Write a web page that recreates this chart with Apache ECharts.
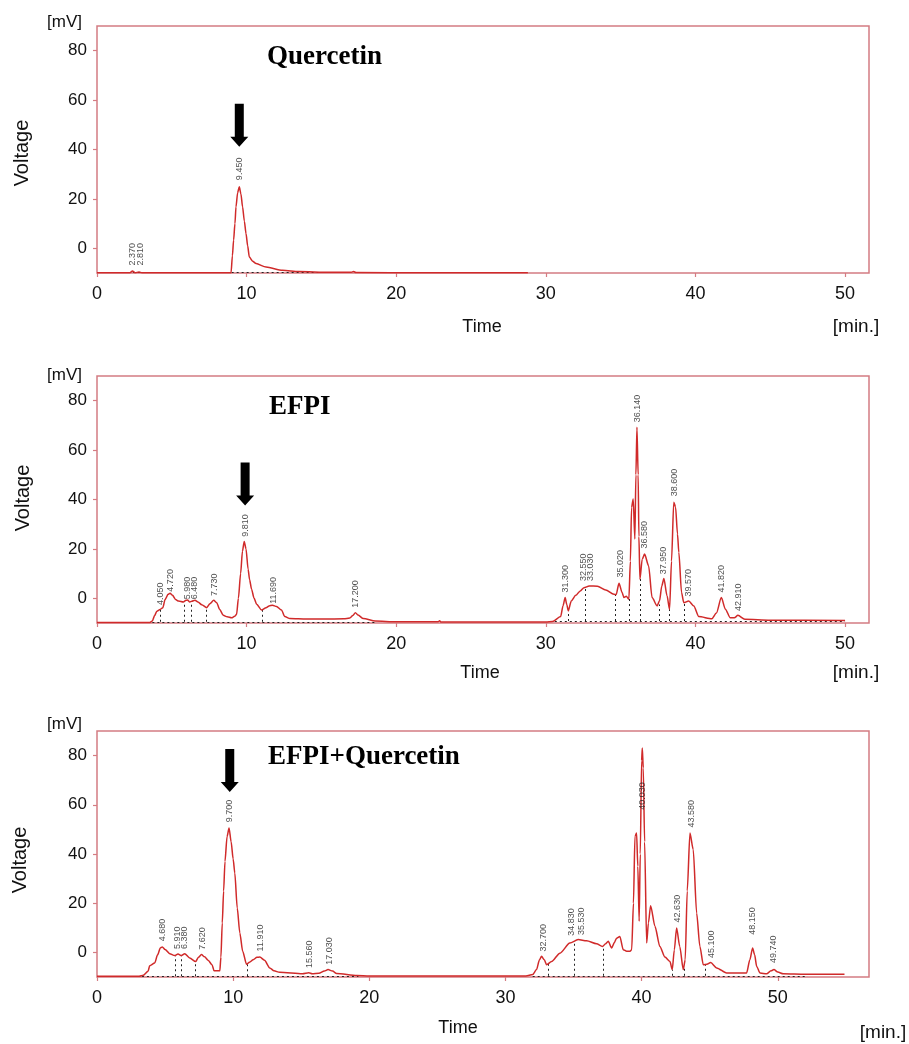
<!DOCTYPE html>
<html><head><meta charset="utf-8">
<script src="https://cdn.jsdelivr.net/npm/echarts@6/dist/echarts.min.js"></script>
<style>html,body{margin:0;padding:0;background:#fff}#c{width:909px;height:1044px}</style>
</head><body><div id="c"></div>
<script>
// ---------- DATA ----------
const panelTitles = ['Quercetin', 'EFPI', 'EFPI+Quercetin'];
const xMax = [51.6, 51.6, 56.7];
const xTickValues = [0, 10, 20, 30, 40, 50];
const yTickValues = [0, 20, 40, 60, 80];

// chromatogram traces [time (min), voltage (mV)]
const quercetinTrace = [[0,-9.9],[2.2,-9.9],[2.37,-9.2],[2.55,-9.9],[2.81,-9.6],[3.0,-9.9],[8.96,-9.9],[9.05,-3],[9.13,3.3],[9.22,10],[9.29,16.8],[9.4,22.5],[9.51,24.9],[9.62,22],[9.73,16.8],[9.85,11],[9.96,6],[10.07,1],[10.18,-3.5],[10.4,-5.2],[10.63,-6.2],[11.3,-7.6],[12.4,-8.9],[13.5,-9.4],[15.5,-9.7],[17.0,-9.7],[17.15,-9.4],[17.3,-9.8],[22,-9.9],[28.8,-9.9]];

const efpiTrace = [[0,-9.8],[3.5,-9.8],[3.7,-9.2],[3.85,-7],[4.0,-5.2],[4.22,-4.5],[4.4,-3.8],[4.55,-0.5],[4.75,1.6],[4.88,2.0],[5.05,1.2],[5.25,-0.5],[5.45,-1.1],[5.77,-1.5],[5.95,-0.8],[6.05,-0.7],[6.2,-1.5],[6.33,-1.2],[6.55,-0.8],[6.75,-1.5],[7.0,-2.6],[7.33,-3.8],[7.55,-2.2],[7.8,-0.8],[8.0,-1.8],[8.2,-4.5],[8.44,-6.9],[8.7,-7.5],[9.0,-7.9],[9.2,-7.3],[9.33,-6.5],[9.45,0],[9.6,10],[9.72,19],[9.84,23],[9.96,20],[10.1,11.8],[10.2,7.5],[10.33,3.7],[10.5,0],[10.67,-2.4],[11.0,-4.7],[11.3,-3.8],[11.5,-3.1],[11.73,-2.8],[12.0,-3.3],[12.33,-4.7],[12.55,-7.4],[12.9,-8.2],[14,-8.4],[15.2,-8.4],[16.5,-8.3],[16.9,-8.0],[17.1,-7],[17.27,-5.8],[17.45,-6.8],[17.8,-8.2],[18.6,-9.2],[20,-9.5],[22.8,-9.5],[22.9,-9.1],[23.0,-9.6],[30.0,-9.6],[30.44,-9.4],[30.99,-7.4],[31.15,-3],[31.29,0.3],[31.4,-2.5],[31.5,-5.1],[31.7,-1.1],[32.0,1.2],[32.3,3],[32.55,4.3],[32.9,5.0],[33.45,4.9],[34.0,3.4],[34.55,1.6],[34.7,1.5],[34.89,6.1],[35.1,2.3],[35.22,0.3],[35.38,0.8],[35.55,-0.4],[35.65,15],[35.73,36.8],[35.84,40.2],[35.95,24],[36.02,50],[36.09,69.3],[36.17,50],[36.22,25],[36.29,7.7],[36.44,15.8],[36.6,17.9],[36.87,13.1],[37.1,0.3],[37.44,-3.1],[37.6,-1],[37.75,5],[37.89,8.0],[38.1,1.0],[38.27,-4.5],[38.4,15],[38.55,38.9],[38.67,37],[38.8,26],[38.89,18.6],[39.07,2.3],[39.22,-1.8],[39.55,-1.1],[39.89,-3.1],[40.22,-7.4],[41.1,-8.3],[41.4,-6],[41.73,0.3],[42.0,-4.4],[42.33,-7.9],[42.6,-7.9],[42.84,-6.9],[43.3,-8.5],[45,-8.9],[50,-9.0]];

const mixTrace = [[0,-9.7],[3.1,-9.7],[3.4,-9.3],[3.75,-7.7],[3.87,-5.4],[4.24,-4.3],[4.45,-1],[4.65,1.8],[4.8,2.2],[5.0,1.2],[5.34,-0.5],[5.7,-1.3],[5.95,-0.7],[6.2,-1.3],[6.44,-0.5],[6.81,-2.3],[7.25,-3.7],[7.45,-2],[7.67,-0.9],[7.9,-1.8],[8.16,-3.2],[8.45,-5],[8.6,-7.5],[9.02,-7.5],[9.1,-2],[9.2,12],[9.3,25],[9.4,37],[9.55,47],[9.7,50.6],[9.85,45],[10.0,38],[10.12,32.3],[10.3,18],[10.49,7.9],[10.7,0.5],[10.98,-4.8],[11.2,-4],[11.47,-3.0],[11.75,-2],[11.96,-1.9],[12.3,-3.2],[12.69,-6.3],[13.0,-7.5],[13.42,-8.1],[15.1,-8.7],[15.56,-8.3],[15.8,-8.7],[16.3,-8.5],[16.7,-7.6],[16.97,-7.0],[17.3,-7.6],[17.6,-8.6],[19.1,-9.4],[20,-9.6],[31.5,-9.6],[32.0,-9.0],[32.28,-7.0],[32.5,-3],[32.65,-1.6],[32.85,-3],[33.02,-5.0],[33.39,-3.7],[34.0,-0.3],[34.73,3.8],[35.34,5.2],[35.96,4.7],[36.69,3.5],[37.13,2.4],[37.35,3.5],[37.55,4.5],[37.8,1.8],[38.0,4],[38.16,5.8],[38.4,6.5],[38.65,1.1],[38.9,0.5],[39.15,0.5],[39.27,1.1],[39.4,20],[39.51,47.2],[39.63,48.5],[39.72,35],[39.82,12.7],[39.9,40],[40.0,78],[40.05,83.1],[40.12,75],[40.22,45],[40.37,3.8],[40.5,12],[40.66,19.0],[40.98,10.6],[41.34,2.4],[41.71,-1.9],[42.08,-3.7],[42.25,-7.0],[42.4,1],[42.57,9.9],[42.8,2.4],[43.06,-7.0],[43.2,-3],[43.35,25],[43.55,48.5],[43.79,41.8],[44.04,16.0],[44.28,2.4],[44.53,-5.0],[44.8,-4.8],[45.07,-4.1],[45.51,-6.3],[46.24,-8.4],[47.71,-8.4],[47.95,-3],[48.15,1.8],[48.3,-1],[48.45,-5.7],[48.7,-8.4],[49.18,-8.7],[49.5,-7.5],[49.72,-7.0],[50.0,-8],[50.4,-8.7],[52,-8.9],[54.9,-8.9]];

// peak retention-time labels [text, time, label foot (mV)]
const quercetinPeaks = [['2.370',2.38,-7],['2.810',2.94,-7],['9.450',9.51,27.6]];
const efpiPeaks = [['4.050',4.22,-2.7],['4.720',4.89,2.7],['5.980',6.07,-0.4],['6.480',6.55,-0.4],['7.730',7.84,0.9],['9.810',9.93,24.9],['11.690',11.77,-2.2],['17.200',17.29,-3.8],['31.300',31.29,2.3],['32.550',32.49,7.0],['33.030',33.0,7.0],['35.020',35.0,8.4],['36.140',36.11,71.3],['36.580',36.6,20.2],['37.950',37.89,9.7],['38.600',38.6,41.3],['39.570',39.51,0.7],['41.820',41.77,2.3],['42.910',42.89,-5.1]];
const mixPeaks = [['4.680',4.78,4.5],['5.910',5.9,1.4],['6.380',6.44,1.4],['7.620',7.72,1.1],['9.700',9.75,52.9],['11.910',12.03,0.4],['15.560',15.58,-6.3],['17.030',17.1,-5.0],['32.700',32.77,0.4],['34.830',34.86,6.8],['35.530',35.59,7.1],['40.030',40.04,58.0],['42.630',42.65,12.2],['43.580',43.67,50.8],['45.100',45.14,-2.3],['48.150',48.15,7.2],['49.740',49.72,-4.3]];

// dotted drop lines [time, top (mV)] and dotted baselines [from, to, level]
const quercetinDrops = [];
const efpiDrops = [[4.22,-4.5],[5.84,-1.2],[6.33,-1.2],[7.33,-3.8],[11.07,-4.7],[31.5,-5.1],[32.62,4.5],[34.62,1.5],[35.6,0],[36.33,8],[37.55,-2.5],[38.22,-4],[39.22,-1.8]];
const mixDrops = [[5.78,-1.2],[6.2,-1.3],[7.25,-3.7],[11.02,-4.8],[33.14,-4.5],[35.05,4.5],[37.18,2.5],[42.25,-7],[43.11,-6],[44.65,-4.9]];
const quercetinBaselines = [[2.4,5.0,-9.7],[9.0,16.0,-9.7]];
const efpiBaselines = [[3.7,18.6,-9.5],[30.6,50.0,-9.2]];
const mixBaselines = [[3.3,19.2,-9.7],[32.0,52.2,-9.5]];

// arrow positions [time, mV]
const arrowPos = [[9.51,49.8],[9.9,46.3],[9.75,73.9]];

// ---------- CHART ----------
const traces = [quercetinTrace, efpiTrace, mixTrace];
const peaks = [quercetinPeaks, efpiPeaks, mixPeaks];
const drops = [quercetinDrops, efpiDrops, mixDrops];
const baselines = [quercetinBaselines, efpiBaselines, mixBaselines];

const gridTops = [26, 376, 731];
const gridH = [247, 247, 246];
const boxColor = '#d47c82';
const lineColor = '#d02a2a';
const sans = '"Liberation Sans", Arial, sans-serif';

const grids = [], xAxes = [], yAxes = [], series = [];
for (let i = 0; i < 3; i++) {
  grids.push({left: 97, top: gridTops[i], width: 772, height: gridH[i], show: true,
    borderColor: boxColor, borderWidth: 1.5, backgroundColor: '#fff'});
  xAxes.push({type: 'value', gridIndex: i, min: 0, max: xMax[i], interval: 10, position: 'bottom',
    axisLine: {show: false, onZero: false}, splitLine: {show: false},
    axisTick: {show: true, length: 4, customValues: xTickValues, lineStyle: {color: boxColor, width: 1.2}},
    axisLabel: {color: '#111', fontSize: 18, fontFamily: sans, margin: 12, customValues: xTickValues}});
  yAxes.push({type: 'value', gridIndex: i, min: -10, max: 90, interval: 10, position: 'left',
    axisLine: {show: false, onZero: false}, splitLine: {show: false},
    axisTick: {show: true, length: 4, customValues: yTickValues, lineStyle: {color: boxColor, width: 1.2}},
    axisLabel: {color: '#111', fontSize: 17, fontFamily: sans, margin: 10, customValues: yTickValues}});

  // baselines and drop lines (dotted)
  series.push({type: 'lines', coordinateSystem: 'cartesian2d', xAxisIndex: i, yAxisIndex: i,
    silent: true, z: 2,
    lineStyle: {color: '#222', width: 1, type: [2, 3], opacity: 1},
    data: baselines[i].map(b => ({coords: [[b[0], b[2]], [b[1], b[2]]]}))
      .concat(drops[i].map(d => ({coords: [[d[0], baselines[i][d[0] < 25 ? 0 : baselines[i].length - 1][2]], [d[0], d[1]]]})))});
  // trace
  series.push({type: 'line', xAxisIndex: i, yAxisIndex: i, data: traces[i], showSymbol: false,
    smooth: 0.25, smoothMonotone: 'x', z: 3,
    lineStyle: {color: lineColor, width: 1.5}});
  // peak labels
  series.push({type: 'scatter', xAxisIndex: i, yAxisIndex: i, symbolSize: 0.1, z: 4,
    itemStyle: {color: 'rgba(0,0,0,0)'},
    label: {show: true, position: 'inside', rotate: 90, align: 'left', verticalAlign: 'middle',
      formatter: '{b}', fontSize: 9, fontFamily: sans, color: '#222'},
    data: peaks[i].map(p => ({name: p[0], value: [p[1], p[2]]}))});
  // arrow
  series.push({type: 'scatter', xAxisIndex: i, yAxisIndex: i, z: 5,
    symbol: 'path://M4.5,0 L13.5,0 L13.5,33 L18,33 L9,43 L0,33 L4.5,33 Z',
    symbolSize: [18, 43], itemStyle: {color: '#000', opacity: 1},
    data: [arrowPos[i]]});
}

const txt = (x, y, text, size, opt) => Object.assign({type: 'text', x: x, y: y, z: 10,
  style: Object.assign({text: text, fill: '#111', fontSize: size, fontFamily: sans,
    align: 'center', verticalAlign: 'middle'}, (opt && opt.style) || {})},
  opt && opt.rotation !== undefined ? {rotation: opt.rotation} : {});

const graphic = [];
const mvY = [22, 375, 724], voltY = [153, 498, 860], voltX = [22, 23, 20];
const timePos = [[482, 327], [480, 673], [458, 1028]];
const minPos = [[856, 327], [856, 673], [883, 1033]];
const titlePos = [[267, 57], [269, 407], [268, 757]];
for (let i = 0; i < 3; i++) {
  graphic.push(txt(64.5, mvY[i], '[mV]', 17));
  graphic.push(txt(voltX[i], voltY[i], 'Voltage', 20, {rotation: Math.PI / 2}));
  graphic.push(txt(timePos[i][0], timePos[i][1], 'Time', 18));
  graphic.push(txt(minPos[i][0], minPos[i][1], '[min.]', 19));
  graphic.push(txt(titlePos[i][0], titlePos[i][1], panelTitles[i], 27,
    {style: {align: 'left', fontFamily: '"Liberation Serif", "Times New Roman", serif', fontWeight: 'bold', fill: '#000'}}));
}

const chart = echarts.init(document.getElementById('c'), null, {renderer: 'canvas'});
chart.setOption({
  animation: false, backgroundColor: '#fff',
  grid: grids, xAxis: xAxes, yAxis: yAxes, series: series, graphic: graphic
});
</script></body></html>
